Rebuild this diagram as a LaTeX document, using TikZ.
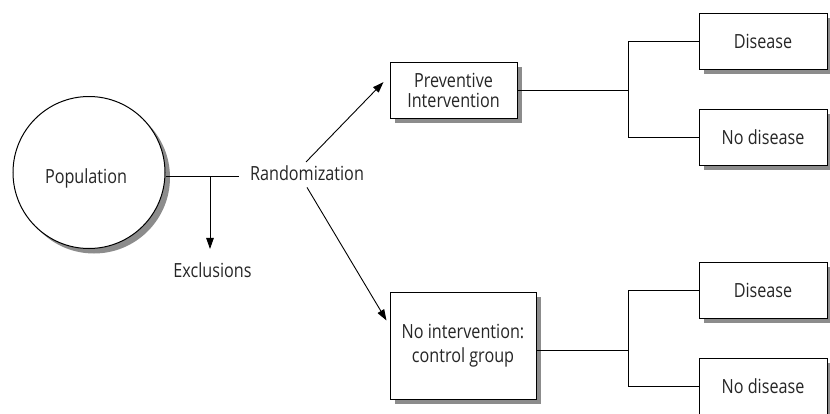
\documentclass[tikz,border=0pt]{standalone}
\usepackage{fontspec}
\setmainfont[FakeStretch=0.83]{Open Sans}
\usetikzlibrary{arrows.meta,shadows}
\begin{document}
\begin{tikzpicture}[x=1pt,y=-1pt,
  every node/.style={font=\fontsize{19.5}{22}\selectfont, text=black!85},
  shd/.style={drop shadow={shadow xshift=5pt,shadow yshift=-5pt,fill=black!45,opacity=1}},
  box/.style={draw, line width=1pt, fill=white, shd, align=center, inner sep=0pt},
  ln/.style={line width=0.9pt},
  arr/.style={ln, -{Triangle[length=11pt,width=7.5pt]}}]
\useasboundingbox (0,0) rectangle (830,413);
% population
\node[box, circle, minimum size=152pt] (pop) at (89,172.5) {};
\node[anchor=base, inner sep=0pt] (poptxt) at (86,183) {Population};
\node[anchor=base, inner sep=0pt] (rand) at (307,180) {Randomization};
\node[anchor=base, inner sep=0pt] (excl) at (212.5,277) {Exclusions};
% groups
\node[box, minimum width=127pt, minimum height=56pt, font=\fontsize{19.5}{20}\selectfont] (prev) at (453.5,90) {Preventive\\Intervention};
\node[box, minimum width=146pt, minimum height=107pt, font=\fontsize{19.5}{23.5}\selectfont] (noint) at (463,345.5) {No intervention:\\control group};
% outcomes
\node[box, minimum width=128pt, minimum height=56pt] (d1) at (763,41) {Disease};
\node[box, minimum width=128pt, minimum height=56pt] (nd1) at (763,137) {No disease};
\node[box, minimum width=128pt, minimum height=56pt] (d2) at (763,290) {Disease};
\node[box, minimum width=128pt, minimum height=56pt] (nd2) at (763,386) {No disease};
% connectors
\coordinate (j) at (210,176);
\coordinate (rj) at (239,176);
\draw[ln] (rj -| pop.east) -- (rj);
\draw[arr] (j) -- ([yshift=13pt]excl.north -| j);
\draw[arr] ([shift={(-1,-3)}]rand.north) -- ([shift={(-6,-8)}]prev.west);
\draw[arr] ([shift={(0,7)}]rand.south) -- ([shift={(-3,29)}]noint.north west);
\coordinate (b1) at (628,90);
\draw[ln] (prev.east |- b1) -- (b1);
\draw[ln] (d1.west) -- (d1.west -| b1) -- (nd1.west -| b1) -- (nd1.west);
\coordinate (b2) at (628,350);
\draw[ln] (noint.east |- b2) -- (b2);
\draw[ln] (d2.west) -- (d2.west -| b2) -- (nd2.west -| b2) -- (nd2.west);
\end{tikzpicture}
\end{document}
